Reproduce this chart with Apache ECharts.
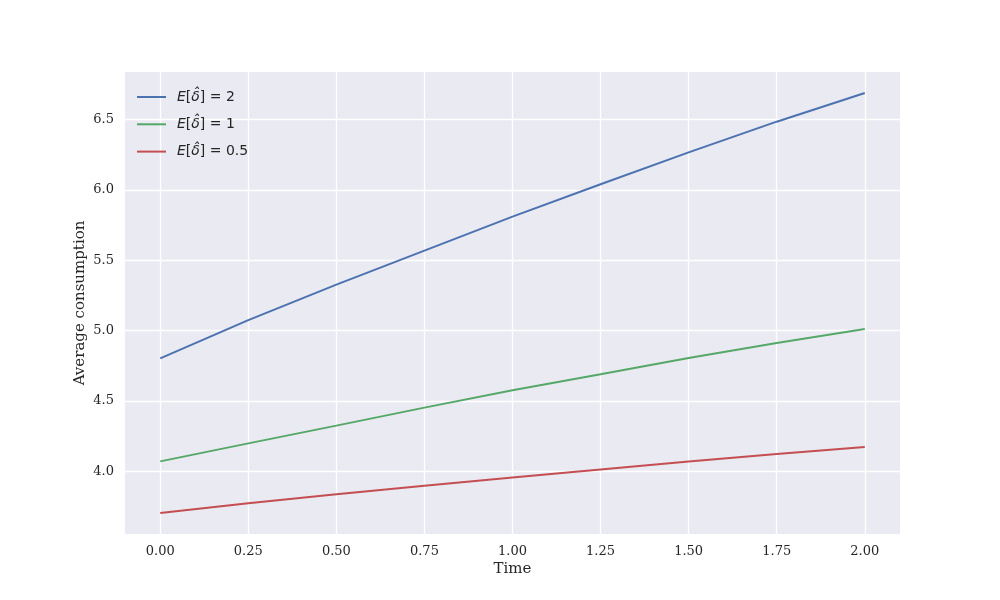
<!DOCTYPE html>
<html><head><meta charset="utf-8">
<script src="https://cdn.jsdelivr.net/npm/echarts@6/dist/echarts.min.js"></script>
<style>html,body{margin:0;padding:0;background:#fff}#c{width:1000px;height:600px}</style>
</head><body><div id="c"></div>
<script>
const times = [0, 0.25, 0.5, 0.75, 1.0, 1.25, 1.5, 1.75, 2.0];
const delta2 = [4.803, 5.075, 5.327, 5.569, 5.810, 6.040, 6.267, 6.485, 6.689];
const delta1 = [4.071, 4.199, 4.325, 4.453, 4.576, 4.690, 4.806, 4.912, 5.011];
const delta05 = [3.704, 3.773, 3.837, 3.898, 3.957, 4.014, 4.071, 4.123, 4.173];
const seriesNames = ['2', '1', '0.5'];
const xTicks = [0, 0.25, 0.5, 0.75, 1.0, 1.25, 1.5, 1.75, 2.0];
const yTicks = [4.0, 4.5, 5.0, 5.5, 6.0, 6.5];

const colors = ['#4C72B0', '#55A868', '#C44E52'];
const txt = '#262626';
const serif = '"DejaVu Serif", serif';
const sans = '"DejaVu Sans", sans-serif';
const pairs = a => times.map((t, i) => [t, a[i]]);

const chart = echarts.init(document.getElementById('c'));
chart.setOption({
  animation: false,
  backgroundColor: '#fff',
  color: colors,
  grid: { left: 125, right: 100, top: 72, bottom: 66, backgroundColor: '#EAEAF2', show: true, borderWidth: 0 },
  legend: {
    orient: 'vertical', left: 137, top: 90, padding: 0,
    itemWidth: 29, itemHeight: 2, itemGap: 13.3,
    icon: 'rect',
    formatter: n => '{it|E}[{it|δ̂}] = ' + n,
    textStyle: {
      color: txt, fontFamily: sans, fontSize: 14, padding: [0, 0, 0, 6],
      rich: { it: { fontStyle: 'italic', fontFamily: sans, fontSize: 14, color: txt } }
    }
  },
  xAxis: {
    type: 'value', min: -0.1, max: 2.1,
    name: 'Time', nameLocation: 'middle', nameGap: 28, nameMoveOverlap: false,
    nameTextStyle: { color: txt, fontFamily: serif, fontSize: 15 },
    axisLine: { show: false }, axisTick: { show: false, customValues: xTicks },
    axisLabel: { color: txt, fontFamily: serif, fontSize: 13, margin: 11, customValues: xTicks,
      formatter: v => v.toFixed(2) },
    splitLine: { show: true, lineStyle: { color: '#fff', width: 1.3 } }
  },
  yAxis: {
    type: 'value', min: 3.555, max: 6.838,
    name: 'Average consumption', nameLocation: 'middle', nameGap: 37, nameMoveOverlap: false,
    nameTextStyle: { color: txt, fontFamily: serif, fontSize: 15 },
    axisLine: { show: false }, axisTick: { show: false, customValues: yTicks },
    axisLabel: { color: txt, fontFamily: serif, fontSize: 13, margin: 11, customValues: yTicks,
      formatter: v => v.toFixed(1) },
    splitLine: { show: true, lineStyle: { color: '#fff', width: 1.3 } }
  },
  series: [delta2, delta1, delta05].map((d, i) => ({
    name: seriesNames[i], type: 'line', data: pairs(d), showSymbol: false,
    lineStyle: { width: 2, color: colors[i] }, itemStyle: { color: colors[i] }
  }))
});
</script></body></html>
